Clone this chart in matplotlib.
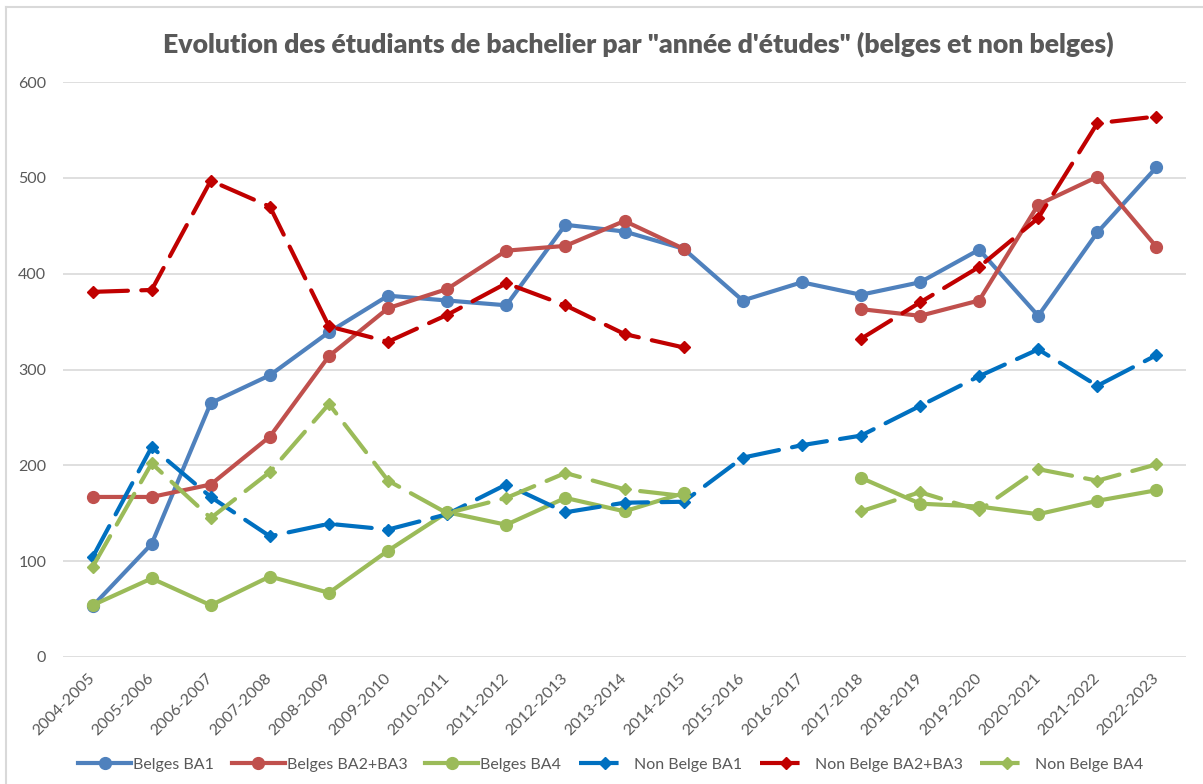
import numpy as np
import matplotlib
matplotlib.use("Agg")
import matplotlib.pyplot as plt
from matplotlib.lines import Line2D

nan = np.nan
years = ["2004-2005", "2005-2006", "2006-2007", "2007-2008", "2008-2009", "2009-2010",
         "2010-2011", "2011-2012", "2012-2013", "2013-2014", "2014-2015", "2015-2016",
         "2016-2017", "2017-2018", "2018-2019", "2019-2020", "2020-2021", "2021-2022",
         "2022-2023"]

belges_ba1 = [53, 118, 265, 294, 339, 377, 372, 367, 451, 444, 426, 372, 391, 378, 391, 425, 356, 443, 511]
belges_ba23 = [167, 167, 180, 230, 314, 364, 384, 424, 429, 455, 426, nan, nan, 363, 356, 372, 472, 501, 428]
belges_ba4 = [54, 82, 54, 84, 67, 111, 151, 138, 166, 152, 171, nan, nan, 187, 160, 157, 149, 163, 174]
nb_ba1 = [104, 219, 167, 126, 139, 133, 149, 180, 151, 161, 162, 208, 221, 231, 262, 293, 321, 283, 315]
nb_ba23 = [381, 383, 497, 470, 345, 329, 357, 390, 367, 337, 323, nan, nan, 332, 370, 407, 458, 557, 564]
nb_ba4 = [94, 202, 145, 193, 264, 184, 150, 166, 192, 175, 168, nan, nan, 152, 172, 153, 196, 184, 201]

labels = ["Belges BA1", "Belges BA2+BA3", "Belges BA4", "Non Belge BA1", "Non Belge BA2+BA3", "Non Belge BA4"]
colors = ["#4F81BD", "#C0504D", "#9BBB59", "#0070C0", "#C00000", "#9BBB59"]
series = [belges_ba1, belges_ba23, belges_ba4, nb_ba1, nb_ba23, nb_ba4]
yticks = [0, 100, 200, 300, 400, 500, 600]

FONT = "Lato"
TXT = "#595959"
W, H = 1203, 784
fig = plt.figure(figsize=(W / 100, H / 100), dpi=100)
ax = fig.add_axes([63 / W, 1 - 657 / H, (1186 - 63) / W, (657 - 82) / H])

x = np.arange(len(years))
LW = 3.0
DMS = 6.5
for i, (vals, lab, col) in enumerate(zip(series, labels, colors)):
    if i < 3:
        ax.plot(x, vals, color=col, lw=LW, marker="o", markersize=8.5,
                solid_capstyle="round", label=lab, zorder=3 + i)
    else:
        ax.plot(x, vals, color=col, lw=LW, marker="D", markersize=DMS,
                dashes=(8.5, 3.2), dash_capstyle="round", label=lab, zorder=3 + i)

ax.set_xlim(-0.5, len(years) - 0.5)
ax.set_ylim(0, 600)
ax.set_yticks(yticks)
ax.set_yticklabels([str(v) for v in yticks], fontfamily=FONT, fontsize=11.5, color=TXT)
ax.set_xticks(x)
ax.set_xticklabels(years, rotation=45, ha="right", va="center", rotation_mode="anchor",
                   fontfamily=FONT, fontsize=11.5, color=TXT)
ax.tick_params(axis="both", length=0)
ax.tick_params(axis="y", pad=12)
ax.tick_params(axis="x", pad=14)
ax.grid(axis="y", color="#D9D9D9", lw=1.2, zorder=0)
ax.set_axisbelow(True)
for s in ax.spines.values():
    s.set_visible(False)

fig.text(638 / W, 1 - 44 / H,
         "Evolution des étudiants de bachelier par \"année d'études\" (belges et non belges)",
         ha="center", va="center", fontfamily=FONT, fontweight="heavy", fontsize=19.2, color=TXT)

# legend proxies
handles = []
for i, (lab, col) in enumerate(zip(labels, colors)):
    if i < 3:
        handles.append(Line2D([], [], color=col, lw=LW, marker="o", markersize=8.5, label=lab))
    else:
        handles.append(Line2D([], [], color=col, lw=LW, marker="D", markersize=DMS,
                              dashes=(9.5, 30), label=lab))
leg = fig.legend(handles=handles, loc="center", bbox_to_anchor=(611 / W, 1 - 765 / H),
                 ncol=6, frameon=False, handlelength=3.3, handletextpad=0.15,
                 columnspacing=1.1, prop={"family": FONT, "size": 11.5})
for t in leg.get_texts():
    t.set_color(TXT)

# chart border
fig.add_artist(Line2D([6 / W, 6 / W], [0, 1 - 7 / H], transform=fig.transFigure, color="#D9D9D9", lw=1.5))
fig.add_artist(Line2D([6 / W, 1], [1 - 7 / H, 1 - 7 / H], transform=fig.transFigure, color="#D9D9D9", lw=1.5))

fig.savefig("out.png", dpi=100)
